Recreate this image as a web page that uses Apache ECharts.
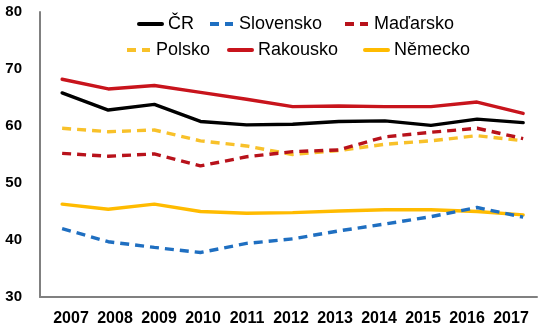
<!DOCTYPE html>
<html>
<head>
<meta charset="utf-8">
<script src="https://cdn.jsdelivr.net/npm/echarts@6/dist/echarts.min.js"></script>
<style>html,body{margin:0;padding:0;background:#fff;}#c{width:540px;height:333px;}</style>
</head>
<body>
<div id="c"></div>
<script>
const years = [2007,2008,2009,2010,2011,2012,2013,2014,2015,2016,2017];
const yTicks = [30,40,50,60,70,80];
const cr        = [65.8,62.8,63.8,60.8,60.2,60.3,60.8,60.9,60.1,61.2,60.6];
const slovensko = [42.0,39.7,38.7,37.8,39.4,40.2,41.6,42.8,44.1,45.7,44.0];
const madarsko  = [55.2,54.7,55.1,53.0,54.6,55.5,55.8,58.1,58.9,59.6,57.8];
const polsko    = [59.6,59.0,59.3,57.4,56.5,55.0,55.7,56.8,57.4,58.3,57.4];
const rakousko  = [68.2,66.5,67.1,65.9,64.7,63.4,63.5,63.4,63.4,64.2,62.2];
const nemecko   = [46.3,45.4,46.3,45.0,44.7,44.8,45.1,45.3,45.3,45.0,44.4];

const font = 'Arial, "Liberation Sans", sans-serif';
const pairs = arr => arr.map((v,i)=>[years[i], v]);

function ser(name, data, color, dashed, z){
  return {
    name, type:'line', data: pairs(data), symbol:'none', xAxisIndex:0, yAxisIndex:0,
    z: z,
    lineStyle:{color, width:3.4, type: dashed ? [9,6] : 'solid', cap: dashed ? 'butt':'round'},
    itemStyle:{color}
  };
}
function leg(name, left, top){
  return {
    data:[name], left, top, itemWidth:23, itemHeight:14, itemGap:0,
    itemStyle:{opacity:0},
    lineStyle:{width:4},
    textStyle:{fontFamily:font, fontSize:18, color:'#000', padding:[0,0,0,1]},
    selectedMode:false
  };
}

const chart = echarts.init(document.getElementById('c'));
chart.setOption({
  animation:false,
  backgroundColor:'#fff',
  legend:[
    leg('ČR',132,10), leg('Slovensko',203,10), leg('Maďarsko',338,10),
    leg('Polsko',120,36), leg('Rakousko',222,36), leg('Německo',358,36)
  ],
  grid:[
    {left:40,right:3,top:12,bottom:36},
    {left:49,right:7,top:12,bottom:36}
  ],
  xAxis:[
    {type:'value', gridIndex:0, min:2006.52, max:2017.3,
     axisLine:{show:true, lineStyle:{color:'#808080', width:2}},
     axisTick:{show:false}, axisLabel:{show:false}, splitLine:{show:false}},
    {type:'category', gridIndex:1, data:years, boundaryGap:true,
     axisLine:{show:false}, axisTick:{show:false}, splitLine:{show:false},
     axisLabel:{interval:0, fontFamily:font, fontSize:16, fontWeight:'bold', color:'#000', margin:14}}
  ],
  yAxis:[
    {type:'value', gridIndex:0, min:yTicks[0], max:yTicks[yTicks.length-1], interval:10,
     axisLine:{show:true, lineStyle:{color:'#808080', width:2}},
     axisTick:{show:false}, splitLine:{show:false},
     axisLabel:{fontFamily:font, fontSize:15, fontWeight:'bold', color:'#000', margin:18}},
    {type:'value', gridIndex:1, show:false}
  ],
  series:[
    ser('ČR', cr, '#000000', false, 5),
    ser('Slovensko', slovensko, '#1f6fc1', true, 7),
    ser('Maďarsko', madarsko, '#b8121b', true, 4),
    ser('Polsko', polsko, '#f8c12a', true, 3),
    ser('Rakousko', rakousko, '#c8141c', false, 6),
    ser('Německo', nemecko, '#ffbb00', false, 2)
  ]
});
</script>
</body>
</html>
